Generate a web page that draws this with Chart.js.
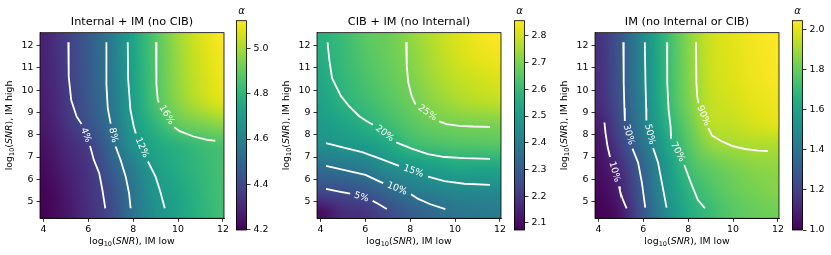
<!DOCTYPE html>
<html>
<head>
<meta charset="utf-8">
<script src="https://cdn.jsdelivr.net/npm/chart.js@4.4.0/dist/chart.umd.min.js"></script>
<style>
  body { margin: 0; background: #fff; }
  #fig { position: relative; width: 831px; height: 255px; overflow: hidden; }
  #fig canvas { position: absolute; top: 0; }
</style>
</head>
<body>
<div id="fig">
  <canvas id="map1" width="234" height="255" style="left:0px"></canvas>
  <canvas id="bar1" width="39" height="255" style="left:236px"></canvas>
  <canvas id="map2" width="234" height="255" style="left:277px"></canvas>
  <canvas id="bar2" width="39" height="255" style="left:514px"></canvas>
  <canvas id="map3" width="234" height="255" style="left:555px"></canvas>
  <canvas id="bar3" width="39" height="255" style="left:792px"></canvas>
</div>
<script>
// grid nodes of the alpha maps (log10 SNR of the low / high IM channel)
const xNodes = [4, 5, 6, 7, 8, 9, 10, 11, 12];
const yNodes = [4.5, 5.5, 6.5, 7.5, 8.5, 9.5, 10.5, 11.5, 12.5];

// alpha values, one row per yNodes entry (bottom to top), columns follow xNodes
const alphaInternal = [
  [4.20, 4.25, 4.32, 4.40, 4.55, 4.66, 4.73, 4.79, 4.84],
  [4.205, 4.26, 4.33, 4.42, 4.556, 4.68, 4.74, 4.80, 4.845],
  [4.22, 4.28, 4.34, 4.46, 4.594, 4.71, 4.77, 4.81, 4.85],
  [4.24, 4.30, 4.366, 4.504, 4.66, 4.75, 4.79, 4.83, 4.855],
  [4.26, 4.33, 4.43, 4.54, 4.704, 4.806, 4.90, 4.94, 4.97],
  [4.27, 4.345, 4.448, 4.557, 4.718, 4.86, 4.96, 5.03, 5.08],
  [4.28, 4.355, 4.455, 4.565, 4.73, 4.865, 4.975, 5.05, 5.10],
  [4.285, 4.36, 4.458, 4.57, 4.736, 4.87, 4.98, 5.06, 5.11],
  [4.29, 4.365, 4.46, 4.575, 4.74, 4.875, 4.99, 5.07, 5.12]
];
const alphaCIB = [
  [2.10, 2.17, 2.19, 2.25, 2.30, 2.34, 2.375, 2.39, 2.40],
  [2.25, 2.265, 2.29, 2.34, 2.395, 2.42, 2.44, 2.445, 2.45],
  [2.353, 2.375, 2.40, 2.455, 2.48, 2.51, 2.535, 2.535, 2.535],
  [2.46, 2.48, 2.50, 2.54, 2.60, 2.62, 2.635, 2.64, 2.645],
  [2.50, 2.53, 2.57, 2.61, 2.65, 2.68, 2.695, 2.70, 2.705],
  [2.525, 2.575, 2.61, 2.645, 2.68, 2.72, 2.75, 2.77, 2.78],
  [2.545, 2.59, 2.63, 2.665, 2.70, 2.745, 2.78, 2.80, 2.815],
  [2.56, 2.60, 2.645, 2.675, 2.715, 2.76, 2.80, 2.825, 2.84],
  [2.57, 2.605, 2.655, 2.68, 2.725, 2.77, 2.81, 2.84, 2.855]
];
const alphaIM = [
  [1.00, 1.07, 1.28, 1.49, 1.64, 1.71, 1.77, 1.80, 1.82],
  [1.02, 1.105, 1.31, 1.53, 1.67, 1.75, 1.80, 1.83, 1.85],
  [1.04, 1.14, 1.335, 1.545, 1.72, 1.79, 1.83, 1.86, 1.87],
  [1.06, 1.20, 1.395, 1.60, 1.76, 1.87, 1.90, 1.915, 1.915],
  [1.09, 1.245, 1.45, 1.65, 1.80, 1.93, 1.95, 1.98, 2.00],
  [1.13, 1.27, 1.47, 1.68, 1.835, 1.945, 1.975, 2.005, 2.02],
  [1.14, 1.28, 1.486, 1.688, 1.845, 1.955, 1.99, 2.02, 2.035],
  [1.145, 1.285, 1.49, 1.69, 1.85, 1.96, 1.995, 2.025, 2.04],
  [1.15, 1.29, 1.495, 1.695, 1.855, 1.965, 2.00, 2.03, 2.045]
];

// contour lines: a = part before the inline label, b = part after it
const contoursInternal = [
  { text: '4%', a: [[5.11, 12.15], [5.13, 10.61], [5.24, 9.56], [5.48, 8.82], [5.70, 8.48]],
    b: [[6.08, 7.50], [6.25, 6.87], [6.49, 6.27], [6.63, 5.53], [6.76, 4.70]] },
  { text: '8%', a: [[6.81, 12.15], [6.81, 10.24], [6.87, 9.19], [7.00, 8.50]],
    b: [[7.22, 7.47], [7.44, 6.87], [7.67, 6.12], [7.82, 5.37], [7.89, 4.70]] },
  { text: '12%', a: [[7.76, 12.15], [7.78, 10.46], [7.88, 9.11], [8.03, 8.37], [8.12, 8.05]],
    b: [[8.66, 6.80], [9.00, 6.12], [9.21, 5.45], [9.41, 4.70]] },
  { text: '16%', a: [[9.02, 12.15], [9.04, 10.24], [9.10, 9.56], [9.15, 9.45]],
    b: [[9.83, 8.33], [10.1, 8.15], [10.7, 7.92], [11.3, 7.77], [11.66, 7.73]] }
];
const contoursCIB = [
  { text: '25%', a: [[7.82, 12.15], [7.85, 11.07], [7.92, 10.33], [8.07, 9.73], [8.24, 9.36]],
    b: [[9.30, 8.60], [9.62, 8.48], [10.2, 8.40], [10.8, 8.37], [11.56, 8.35]] },
  { text: '20%', a: [[4.32, 12.15], [4.40, 11.36], [4.52, 10.54], [4.92, 9.73], [5.28, 9.28], [5.72, 8.84], [6.05, 8.62], [6.35, 8.45]],
    b: [[7.38, 7.66], [8.07, 7.38], [8.80, 7.13], [9.53, 7.00], [10.42, 6.95], [11.56, 6.92]] },
  { text: '15%', a: [[4.25, 7.62], [5.13, 7.40], [5.86, 7.22], [6.60, 6.95], [7.33, 6.67], [7.50, 6.60]],
    b: [[8.80, 6.12], [9.53, 5.92], [10.42, 5.80], [11.56, 5.75]] },
  { text: '10%', a: [[4.25, 6.60], [5.13, 6.40], [6.01, 6.20], [6.60, 5.92], [6.80, 5.83]],
    b: [[8.04, 5.33], [8.36, 5.12], [8.90, 4.88], [9.57, 4.66]] },
  { text: '5%', a: [[4.25, 5.57], [4.84, 5.45], [5.33, 5.36]],
    b: [[6.33, 5.03], [6.57, 4.90], [6.96, 4.67]] }
];
const contoursIM = [
  { text: '10%', a: [[4.27, 8.55], [4.32, 8.07], [4.41, 7.47], [4.52, 7.00]],
    b: [[4.92, 5.68], [4.96, 5.49], [5.11, 5.04], [5.26, 4.70]] },
  { text: '30%', a: [[5.11, 12.15], [5.13, 10.31], [5.16, 9.2], [5.18, 8.62]],
    b: [[5.52, 7.38], [5.77, 6.75], [5.94, 5.85], [6.09, 4.73]] },
  { text: '50%', a: [[6.07, 12.15], [6.10, 10.31], [6.13, 9.2], [6.14, 8.64]],
    b: [[6.44, 7.40], [6.66, 6.75], [6.83, 5.85], [7.04, 4.73]] },
  { text: '70%', a: [[7.06, 12.15], [7.07, 10.31], [7.13, 9.12], [7.22, 8.37], [7.24, 7.82]],
    b: [[7.83, 6.64], [8.13, 5.83], [8.43, 5.08], [8.75, 4.70]] },
  { text: '90%', a: [[8.35, 12.15], [8.37, 10.31], [8.41, 9.7], [8.46, 9.42]],
    b: [[8.90, 8.29], [9.07, 7.96], [9.51, 7.70], [9.95, 7.50], [10.54, 7.36], [11.13, 7.29], [11.55, 7.27]] }
];

const titles = ['Internal + IM (no CIB)', 'CIB + IM (no Internal)', 'IM (no Internal or CIB)'];
const barMin = [4.197, 2.073, 1.0];
const barMax = [5.124, 2.857, 2.045];
const barStep = [0.2, 0.1, 0.2];

const viridis = ['#440154', '#471365', '#482475', '#463480', '#414487', '#3b528b', '#355f8d',
  '#2f6c8e', '#2a788e', '#25848e', '#21918c', '#1e9c89', '#22a884', '#2fb47c', '#44bf70',
  '#5ec962', '#7ad151', '#9bd93c', '#bddf26', '#dfe318', '#fde725'];
const viridisRGB = viridis.map(h => [1, 3, 5].map(i => parseInt(h.substr(i, 2), 16)));

function colour(t) {
  t = Math.max(0, Math.min(1, t)) * (viridisRGB.length - 1);
  const i = Math.min(Math.floor(t), viridisRGB.length - 2), f = t - i;
  const a = viridisRGB[i], b = viridisRGB[i + 1];
  return [0, 1, 2].map(k => a[k] + (b[k] - a[k]) * f);
}

function cubic(p0, p1, p2, p3, t) {
  return p1 + 0.5 * t * (p2 - p0 + t * (2 * p0 - 5 * p1 + 4 * p2 - p3 + t * (3 * (p1 - p2) + p3 - p0)));
}

function sample(grid, xv, yv) {
  const nx = xNodes.length, ny = yNodes.length;
  const fx = Math.max(0, Math.min(nx - 1, (xv - xNodes[0]) / (xNodes[1] - xNodes[0])));
  const fy = Math.max(0, Math.min(ny - 1, (yv - yNodes[0]) / (yNodes[1] - yNodes[0])));
  const i = Math.min(Math.floor(fx), nx - 2), j = Math.min(Math.floor(fy), ny - 2);
  const g = (r, c) => grid[Math.max(0, Math.min(ny - 1, r))][Math.max(0, Math.min(nx - 1, c))];
  const rows = [];
  for (let r = j - 1; r <= j + 2; r++) rows.push(cubic(g(r, i - 1), g(r, i), g(r, i + 1), g(r, i + 2), fx - i));
  return cubic(rows[0], rows[1], rows[2], rows[3], fy - j);
}

const FS = 9.4;
const FONT = '"DejaVu Sans"';
Chart.defaults.font.family = FONT;
Chart.defaults.color = '#000';

function drawAxisLabel(ctx, cx, cy, rot, suffix) {
  const parts = [
    { t: 'log', f: FS + 'px ' + FONT, dy: 0 },
    { t: '10', f: (FS * 0.7) + 'px ' + FONT, dy: FS * 0.22 },
    { t: '(', f: FS + 'px ' + FONT, dy: 0 },
    { t: 'SNR', f: 'italic ' + FS + 'px ' + FONT, dy: 0 },
    { t: '), IM ' + suffix, f: FS + 'px ' + FONT, dy: 0 }
  ];
  ctx.save();
  ctx.translate(cx, cy);
  ctx.rotate(rot);
  let w = 0;
  parts.forEach(p => { ctx.font = p.f; p.w = ctx.measureText(p.t).width; w += p.w; });
  let x = -w / 2;
  ctx.fillStyle = '#000';
  ctx.textBaseline = 'alphabetic';
  parts.forEach(p => { ctx.font = p.f; ctx.fillText(p.t, x, p.dy); x += p.w; });
  ctx.restore();
}

function mapPlugin(grid, cmin, cmax, contours) {
  return {
    id: 'alphaMap',
    beforeDatasetsDraw(chart) {
      const { ctx, chartArea: a, scales: { x, y } } = chart;
      const w = Math.round(a.right - a.left), h = Math.round(a.bottom - a.top);
      const off = document.createElement('canvas');
      off.width = w; off.height = h;
      const octx = off.getContext('2d');
      const img = octx.createImageData(w, h);
      for (let j = 0; j < h; j++) {
        const yv = y.getValueForPixel(a.top + (j + 0.5) * (a.bottom - a.top) / h);
        for (let i = 0; i < w; i++) {
          const xv = x.getValueForPixel(a.left + (i + 0.5) * (a.right - a.left) / w);
          const c = colour((sample(grid, xv, yv) - cmin) / (cmax - cmin));
          const k = (j * w + i) * 4;
          img.data[k] = c[0]; img.data[k + 1] = c[1]; img.data[k + 2] = c[2]; img.data[k + 3] = 255;
        }
      }
      octx.putImageData(img, 0, 0);
      ctx.drawImage(off, a.left, a.top, a.right - a.left, a.bottom - a.top);
    },
    afterDatasetsDraw(chart) {
      const { ctx, chartArea: a, scales: { x, y } } = chart;
      ctx.save();
      ctx.fillStyle = '#fff';
      ctx.font = FS + 'px ' + FONT;
      ctx.textAlign = 'center';
      ctx.textBaseline = 'middle';
      contours.forEach(c => {
        const p = c.a[c.a.length - 1], q = c.b[0];
        const x1 = x.getPixelForValue(p[0]), y1 = y.getPixelForValue(p[1]);
        const x2 = x.getPixelForValue(q[0]), y2 = y.getPixelForValue(q[1]);
        let ang = Math.atan2(y2 - y1, x2 - x1);
        if (ang > Math.PI / 2) ang -= Math.PI;
        if (ang < -Math.PI / 2) ang += Math.PI;
        ctx.save();
        ctx.translate((x1 + x2) / 2, (y1 + y2) / 2);
        ctx.rotate(ang);
        ctx.fillText(c.text, 0, 0);
        ctx.restore();
      });
      ctx.strokeStyle = '#000';
      ctx.lineWidth = 0.8;
      ctx.strokeRect(a.left, a.top, a.right - a.left, a.bottom - a.top);
      ctx.restore();
      drawAxisLabel(ctx, (a.left + a.right) / 2, 244, 0, 'low');
      drawAxisLabel(ctx, 12, (a.top + a.bottom) / 2, -Math.PI / 2, 'high');
    }
  };
}

function barPlugin(cmin, cmax) {
  return {
    id: 'colourBar',
    beforeDatasetsDraw(chart) {
      const { ctx, chartArea: a } = chart;
      const grad = ctx.createLinearGradient(0, a.bottom, 0, a.top);
      viridis.forEach((c, i) => grad.addColorStop(i / (viridis.length - 1), c));
      ctx.save();
      ctx.fillStyle = grad;
      ctx.fillRect(a.left, a.top, a.right - a.left, a.bottom - a.top);
      ctx.strokeStyle = '#000';
      ctx.lineWidth = 0.8;
      ctx.strokeRect(a.left + 0.4, a.top, a.right - a.left - 0.8, a.bottom - a.top);
      ctx.fillStyle = '#000';
      ctx.font = 'italic 10px ' + FONT;
      ctx.textAlign = 'center';
      ctx.textBaseline = 'middle';
      ctx.fillText('\u03b1', (a.left + a.right) / 2, 11.5);
      ctx.restore();
    }
  };
}

const grids = [alphaInternal, alphaCIB, alphaIM];
const contourSets = [contoursInternal, contoursCIB, contoursIM];

for (let n = 0; n < 3; n++) {
  const datasets = [];
  contourSets[n].forEach(c => {
    [c.a, c.b].forEach(seg => datasets.push({
      data: seg.map(p => ({ x: p[0], y: p[1] })),
      showLine: true, borderColor: '#fff', borderWidth: 1.8,
      pointRadius: 0, pointHoverRadius: 0, tension: 0
    }));
  });

  new Chart(document.getElementById('map' + (n + 1)), {
    type: 'scatter',
    data: { datasets: datasets },
    options: {
      responsive: false,
      animation: false,
      events: [],
      layout: { padding: { left: 0, right: 10, top: 0, bottom: 0 } },
      plugins: {
        legend: { display: false },
        tooltip: { enabled: false },
        title: {
          display: true, text: titles[n], fullSize: false, color: '#000',
          font: { size: 11.3, weight: 'normal' }, padding: { top: 15, bottom: 4.1 }
        }
      },
      scales: {
        x: {
          type: 'linear', min: 3.85, max: 12.05,
          afterFit: s => { s.height = 36.7; },
          ticks: { stepSize: 2, includeBounds: false, font: { size: FS }, padding: 2.5 },
          grid: { drawOnChartArea: false, tickLength: 3.5, color: '#000', lineWidth: 0.8 },
          border: { color: '#000', width: 0.8 }
        },
        y: {
          type: 'linear', min: 4.25, max: 12.58,
          afterFit: s => { s.width = 40; },
          ticks: { stepSize: 1, includeBounds: false, font: { size: FS }, padding: 3 },
          grid: { drawOnChartArea: false, tickLength: 3.5, color: '#000', lineWidth: 0.8 },
          border: { color: '#000', width: 0.8 }
        }
      }
    },
    plugins: [mapPlugin(grids[n], barMin[n], barMax[n], contourSets[n])]
  });

  new Chart(document.getElementById('bar' + (n + 1)), {
    type: 'scatter',
    data: { datasets: [] },
    options: {
      responsive: false,
      animation: false,
      events: [],
      layout: { padding: { left: 0, right: 0, top: 20.7, bottom: 25 } },
      plugins: { legend: { display: false }, tooltip: { enabled: false } },
      scales: {
        x: { display: false, min: 0, max: 1 },
        y: {
          position: 'right', min: barMin[n], max: barMax[n],
          afterFit: s => { s.width = 28; },
          ticks: { stepSize: barStep[n], includeBounds: false, font: { size: FS }, padding: 3,
                   callback: v => v.toFixed(1) },
          grid: { drawOnChartArea: false, tickLength: 3.5, color: '#000', lineWidth: 0.8 },
          border: { display: false }
        }
      }
    },
    plugins: [barPlugin(barMin[n], barMax[n])]
  });
}
</script>
</body>
</html>
